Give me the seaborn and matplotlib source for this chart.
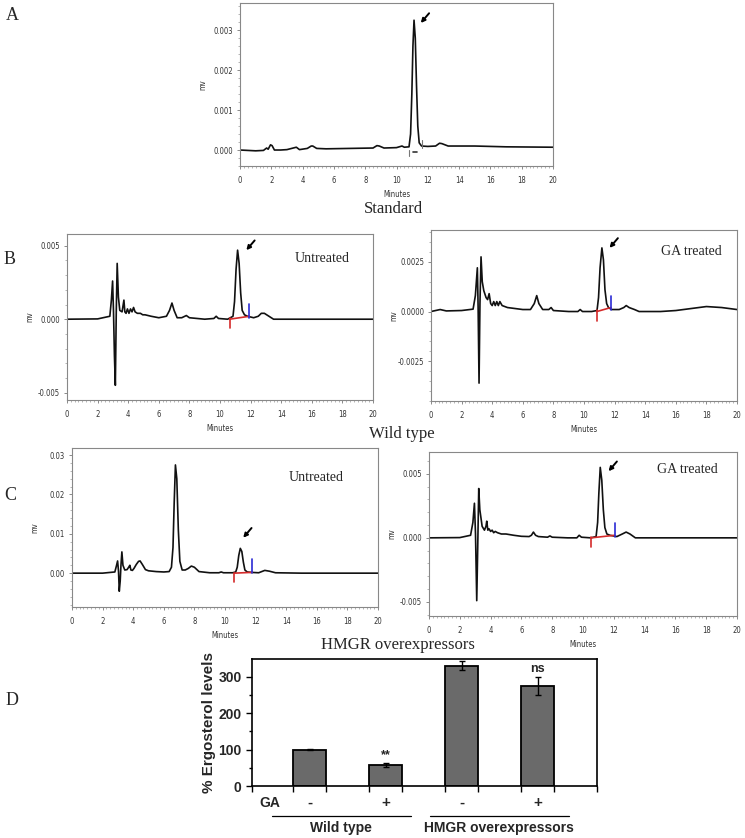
import numpy as np
import pandas as pd
import matplotlib
matplotlib.use("Agg")
import matplotlib.pyplot as plt
import matplotlib.transforms as mtransforms
from matplotlib.ticker import MultipleLocator, AutoMinorLocator, FormatStrFormatter
import seaborn as sns

sns.set_style("ticks")
plt.rcParams["axes.unicode_minus"] = False

SERIF = ["Liberation Serif", "DejaVu Serif"]
NARROW = ["Liberation Sans Narrow", "DejaVu Sans"]
SANS = ["Liberation Sans", "DejaVu Sans"]

# ---- chromatogram traces (minutes, mv) ----
STD_T = [0, 1.0, 1.5, 1.7, 1.8, 1.95, 2.05, 2.2, 2.6, 3.0, 3.5, 3.6, 3.8, 4.3, 4.55, 4.65, 4.9, 5.5,
         7.0, 8.5, 8.75, 8.9, 9.2, 10.0, 10.35, 10.5, 10.8, 10.9, 10.98, 11.05, 11.12, 11.2, 11.28,
         11.36, 11.45, 11.6, 12.0, 12.5, 12.75, 12.9, 13.3, 15, 17, 20]
STD_Y = [0, -0.00002, -0.00001, 0.00005, 0.00002, 0.00013, 0.00011, 0.0, 0.0, 0.00001, 0.00006,
         0.00007, 0.00001, 0.00004, 0.0001, 0.0001, 0.00004, 0.00003, 0.00004, 0.00005, 0.00011,
         0.0001, 0.00005, 0.00006, 0.0001, 0.00007, 0.00008, 0.0004, 0.0014, 0.0026, 0.00325,
         0.0028, 0.0016, 0.0006, 0.00018, 0.0001, 0.00009, 0.0001, 0.00017, 0.00016, 0.0001,
         0.0001, 0.00008, 0.00007]

WT_UN_T = [0, 2.0, 2.8, 2.9, 2.98, 3.04, 3.1, 3.16, 3.22, 3.28, 3.36, 3.45, 3.6, 3.72, 3.78, 3.86,
           3.95, 4.05, 4.15, 4.25, 4.35, 4.45, 4.6, 4.8, 4.95, 5.1, 5.5, 6.0, 6.5, 6.7, 6.86, 7.0,
           7.2, 7.5, 7.8, 8.0, 9.0, 9.6, 9.75, 9.9, 10.5, 10.85, 10.95, 11.05, 11.15, 11.25, 11.35,
           11.45, 11.6, 11.8, 12.2, 12.5, 12.7, 12.9, 13.2, 13.5, 15, 20]
WT_UN_Y = [0, 0.00002, 0.0002, 0.0013, 0.0026, 0.0005, -0.0025, -0.0045, 0.0005, 0.0038, 0.0015,
           0.0006, 0.0005, 0.0013, 0.0005, 0.0004, 0.0007, 0.0004, 0.0007, 0.0005, 0.0008, 0.0005,
           0.0004, 0.0004, 0.0003, 0.0003, 0.0002, 0.0001, 0.0002, 0.0006, 0.0011, 0.0006, 0.0001,
           0.0001, 0.00025, 0.0001, 0.0, 0.00005, 0.0002, 0.00005, 0.0, 0.0002, 0.0012, 0.0034,
           0.0047, 0.0038, 0.0018, 0.0006, 0.0003, 0.0002, 0.0001, 0.0002, 0.0004, 0.0004, 0.0002,
           0.0, 0.0, 0.0]

WT_GA_T = [0, 0.3, 0.6, 1.0, 2.0, 2.75, 2.9, 3.03, 3.08, 3.14, 3.2, 3.27, 3.35, 3.45, 3.6, 3.7, 3.8,
           3.9, 4.0, 4.1, 4.2, 4.3, 4.4, 4.5, 4.65, 5.0, 5.5, 6.0, 6.5, 6.75, 6.91, 7.05, 7.3, 7.7,
           7.85, 8.0, 9.0, 9.6, 9.75, 9.9, 10.5, 10.85, 10.95, 11.05, 11.17, 11.27, 11.37, 11.48,
           11.6, 11.8, 12.3, 12.6, 12.76, 12.95, 13.3, 13.6, 15.0, 16.0, 17.0, 18.0, 19.0, 20.0]
WT_GA_Y = [0, 0.00005, 0.0001, 0.00003, 0.00005, 0.00012, 0.0008, 0.0022, 0.0002, -0.0036, 0.0004,
           0.00275, 0.0015, 0.00105, 0.0007, 0.0006, 0.0009, 0.0004, 0.0003, 0.0005, 0.0003,
           0.0005, 0.0003, 0.0005, 0.0003, 0.0002, 0.00015, 0.0001, 0.0001, 0.0004, 0.0008,
           0.0004, 0.0001, 0.0001, 0.0002, 0.00005, 0.0, 0.0, 0.0001, 0.0, 0.0, 0.00005, 0.0007,
           0.0022, 0.0032, 0.0026, 0.0011, 0.0004, 0.0002, 0.0001, 0.0001, 0.0002, 0.0003, 0.0002,
           0.0001, 0.0, 0.0, 0.00005, 0.00015, 0.00025, 0.0002, 0.0001]

HM_UN_T = [0, 2.0, 2.8, 2.9, 2.98, 3.04, 3.09, 3.15, 3.2, 3.26, 3.33, 3.45, 3.6, 3.72, 3.78, 3.85,
           3.95, 4.05, 4.2, 4.35, 4.45, 4.6, 4.8, 5.0, 5.5, 6.0, 6.35, 6.5, 6.6, 6.68, 6.76, 6.85,
           6.95, 7.05, 7.2, 7.4, 7.6, 7.8, 8.0, 8.3, 9.0, 9.6, 9.75, 9.9, 10.5, 10.7, 10.8, 10.9,
           11.0, 11.1, 11.2, 11.3, 11.45, 11.7, 12.2, 12.6, 12.9, 13.3, 15.0, 20.0]
HM_UN_Y = [0, 0.0, 0.0003, 0.0018, 0.0031, 0.0005, -0.0046, -0.002, 0.002, 0.0054, 0.002, 0.0008,
           0.0009, 0.0016, 0.002, 0.0008, 0.0007, 0.0012, 0.0022, 0.003, 0.0031, 0.0022, 0.0009,
           0.0006, 0.0004, 0.0003, 0.0004, 0.0015, 0.0065, 0.018, 0.0275, 0.024, 0.011, 0.003,
           0.0008, 0.0008, 0.0012, 0.0018, 0.0015, 0.0004, 0.0001, 0.0001, 0.0003, 0.0001, 0.0001,
           0.0003, 0.0015, 0.0045, 0.0063, 0.0055, 0.0028, 0.0008, 0.0003, 0.0002, 0.0001, 0.0007,
           0.0005, 0.0001, 0.0, 0.0]

HM_GA_T = [0, 2.0, 2.7, 2.85, 2.95, 3.02, 3.1, 3.16, 3.23, 3.3, 3.45, 3.6, 3.7, 3.75, 3.82, 3.9,
           4.0, 4.1, 4.2, 4.3, 4.45, 4.7, 5.0, 5.5, 6.0, 6.5, 6.65, 6.78, 6.92, 7.1, 7.7, 7.85, 8.0,
           9.0, 9.6, 9.75, 9.9, 10.5, 10.85, 10.95, 11.03, 11.12, 11.22, 11.32, 11.42, 11.55, 11.75,
           12.2, 12.55, 12.8, 13.05, 13.4, 15.0, 20.0]
HM_GA_Y = [0, 0.00002, 0.0002, 0.0012, 0.0027, 0.0003, -0.0049, -0.001, 0.00385, 0.0022, 0.0009,
           0.0006, 0.0009, 0.0013, 0.0006, 0.0007, 0.0005, 0.0006, 0.0004, 0.0005, 0.0004, 0.0003,
           0.0003, 0.0002, 0.00012, 0.0001, 0.0002, 0.00045, 0.0002, 0.0001, 0.00005, 0.00015,
           0.00005, 0.0, 0.0, 0.0002, 0.00005, 0.0, 0.0001, 0.0012, 0.0035, 0.0055, 0.0045, 0.0022,
           0.0008, 0.0003, 0.0002, 0.0001, 0.0003, 0.00045, 0.0003, 0.0, 0.0, 0.0]

# ergosterol peak integration start / end (minutes)
PEAK_START = {"wt_un": 10.63, "wt_ga": 10.84, "hm_un": 10.6, "hm_ga": 10.53}
PEAK_END = {"wt_un": 11.92, "wt_ga": 11.76, "hm_un": 11.77, "hm_ga": 12.05}

# ---- panel D bar data ----
GROUPS = ["Wild type", "Wild type", "HMGR overexpressors", "HMGR overexpressors"]
GA_SIGNS = ["-", "+", "-", "+"]
ERGOSTEROL = [100, 58, 330, 273]
ERGOSTEROL_SD = [1, 5, 12, 25]
SIG_LABELS = ["", "**", "", "ns"]

W, H = 745, 838


def rect(l, t, r, b):
    return [l / W, 1 - b / H, (r - l) / W, (b - t) / H]


def chromatogram(box, t, y, ylim, yticks, fmt, arrow_head, label=None, marks=None, std=False):
    ax = fig.add_axes(rect(*box))
    df = pd.DataFrame({"Minutes": t, "mv": y})
    sns.lineplot(data=df, x="Minutes", y="mv", ax=ax, color="#111111", lw=1.2,
                 estimator=None, sort=False)
    ax.set_xlim(0, 20)
    ax.set_ylim(*ylim)
    ax.xaxis.set_major_locator(MultipleLocator(2))
    ax.xaxis.set_minor_locator(MultipleLocator(0.25))
    ax.set_yticks(yticks)
    ax.yaxis.set_minor_locator(AutoMinorLocator(5))
    ax.yaxis.set_major_formatter(FormatStrFormatter(fmt))
    ax.tick_params(which="major", length=2.5, width=0.6, color="#777777", pad=2.5)
    ax.tick_params(which="minor", length=1.5, width=0.5, color="#999999")
    ax.tick_params(axis="x", which="major", pad=5)
    for lab in ax.get_xticklabels() + ax.get_yticklabels():
        lab.set_family(NARROW)
        lab.set_fontstretch("condensed")
        lab.set_fontsize(5.5)
        lab.set_color("#333333")
    for sp in ax.spines.values():
        sp.set_color("#888888")
        sp.set_linewidth(0.8)
    wpx, hpx = box[2] - box[0], box[3] - box[1]
    ax.set_xlabel("Minutes", family=NARROW, fontstretch="condensed", fontsize=5.5, color="#333333")
    ax.set_ylabel("mv", family=NARROW, fontstretch="condensed", fontsize=5.5, color="#333333")
    ax.xaxis.set_label_coords(0.5, -24 / hpx)
    ax.yaxis.set_label_coords(-33 / wpx, 0.5)
    ax.annotate("", xy=arrow_head, xytext=(6, 7), textcoords="offset points",
                arrowprops=dict(arrowstyle="-|>", lw=1.4, color="black", mutation_scale=6,
                                shrinkA=0, shrinkB=0))
    if label:
        ax.text(label[0], label[1], label[2], family=SERIF, fontsize=10, ha="center", va="center")
    span = ylim[1] - ylim[0]
    if marks:
        s, e = marks
        ax.plot([s, e], [0.0, 0.0002], color="#d42a2a", lw=1.2)
        ax.plot([s, s], [0.0001, -0.055 * span], color="#d42a2a", lw=1.2)
        ax.plot([e, e], [0.0001, 0.09 * span], color="#2a2ad4", lw=1.2)
    if std:
        ax.plot([10.8, 10.8], [0.0, -0.00015], color="#777777", lw=0.8)
        ax.plot([11.05, 11.3], [-0.00004, -0.00004], color="#333333", lw=1.2)
        ax.plot([11.65, 11.65], [0.00005, 0.00025], color="#777777", lw=0.8)
    return ax


fig = plt.figure(figsize=(W / 100, H / 100), dpi=100)

# A: standard
chromatogram((240, 3, 553, 166), STD_T, STD_Y, (-0.0004, 0.00368), [0, 0.001, 0.002, 0.003],
             "%.3f", (11.55, 0.00318), std=True)
fig.text(393 / W, 1 - 209 / H, "Standard", family=SERIF, fontsize=12, ha="center", va="center")

# B: wild type
chromatogram((67, 234, 373, 400), WT_UN_T, WT_UN_Y, (-0.0055, 0.0058), [-0.005, 0, 0.005],
             "%.3f", (11.72, 0.0047), label=(16.7, 0.0041, "Untreated"),
             marks=(PEAK_START["wt_un"], PEAK_END["wt_un"]))
chromatogram((431, 230, 737, 401), WT_GA_T, WT_GA_Y, (-0.0045, 0.0041), [-0.0025, 0, 0.0025],
             "%.4f", (11.67, 0.0032), label=(17.05, 0.0030, "GA treated"),
             marks=(PEAK_START["wt_ga"], PEAK_END["wt_ga"]))
fig.text(402 / W, 1 - 434 / H, "Wild type", family=SERIF, fontsize=12, ha="center", va="center")

# C: HMGR overexpressors
chromatogram((72, 448, 378, 607), HM_UN_T, HM_UN_Y, (-0.0086, 0.0318), [0, 0.01, 0.02, 0.03],
             "%.2f", (11.19, 0.009), label=(15.94, 0.0244, "Untreated"),
             marks=(PEAK_START["hm_un"], PEAK_END["hm_un"]))
chromatogram((429, 452, 737, 616), HM_GA_T, HM_GA_Y, (-0.0061, 0.0067), [-0.005, 0, 0.005],
             "%.3f", (11.66, 0.0052), label=(16.75, 0.0053, "GA treated"),
             marks=(PEAK_START["hm_ga"], PEAK_END["hm_ga"]))
fig.text(398 / W, 1 - 645 / H, "HMGR overexpressors", family=SERIF, fontsize=12,
         ha="center", va="center")

# D: ergosterol levels
axd = fig.add_axes(rect(252, 659, 597, 786))
bars = pd.DataFrame({"cond": [f"{g} {s}" for g, s in zip(GROUPS, GA_SIGNS)],
                     "erg": ERGOSTEROL})
sns.barplot(data=bars, x="cond", y="erg", color="#6a6a6a", saturation=1, width=0.43,
            edgecolor="black", linewidth=1.3, ax=axd)
pos = np.arange(len(ERGOSTEROL))
axd.errorbar(pos, ERGOSTEROL, yerr=ERGOSTEROL_SD, fmt="none", ecolor="black", elinewidth=1,
             capsize=2, capthick=1)
axd.set_xlim(-0.76, 3.78)
axd.set_ylim(0, 348)
edges = [-0.76] + [p + d for p in pos for d in (-0.215, 0.215)] + [3.78]
axd.set_xticks(edges)
axd.set_xticklabels([""] * len(edges))
axd.set_yticks([0, 100, 200, 300])
axd.yaxis.set_minor_locator(MultipleLocator(50))
axd.tick_params(which="major", length=4, width=1, color="black")
axd.tick_params(which="minor", length=2, width=1, color="black")
for lab in axd.get_yticklabels():
    lab.set_family(SANS)
    lab.set_fontweight("bold")
    lab.set_fontsize(10)
for sp in axd.spines.values():
    sp.set_color("black")
    sp.set_linewidth(1.2)
axd.set_xlabel("")
axd.set_ylabel("% Ergosterol levels", family=SANS, fontweight="bold", fontsize=11)
axd.yaxis.set_label_coords(-36 / 345, 0.5)
for p, v, e, s in zip(pos, ERGOSTEROL, ERGOSTEROL_SD, SIG_LABELS):
    if s:
        axd.text(p, v + e + 5, s, family=SANS, fontweight="bold", fontsize=9,
                 ha="center", va="bottom")
trans = mtransforms.blended_transform_factory(axd.transData, axd.transAxes)
axd.text(-0.53, -0.135, "GA", transform=trans, family=SANS, fontweight="bold", fontsize=10,
         ha="center", va="center")
for p, s in zip(pos, GA_SIGNS):
    axd.text(p, -0.135, s, transform=trans, family=SANS, fontweight="bold", fontsize=11,
             ha="center", va="center")
for (x0, x1), name in zip([(-0.5, 1.33), (1.58, 3.41)], ["Wild type", "HMGR overexpressors"]):
    axd.plot([x0, x1], [-0.236, -0.236], transform=trans, color="black", lw=0.9, clip_on=False)
    axd.text((x0 + x1) / 2, -0.33, name, transform=trans, family=SANS, fontweight="bold",
             fontsize=10, ha="center", va="center")

# panel letters
for letter, (x, y) in {"A": (12, 15), "B": (10, 260), "C": (10, 495), "D": (12, 700)}.items():
    fig.text(x / W, 1 - y / H, letter, family=SERIF, fontsize=13, ha="center", va="center")

fig.savefig("out.png", dpi=100)
